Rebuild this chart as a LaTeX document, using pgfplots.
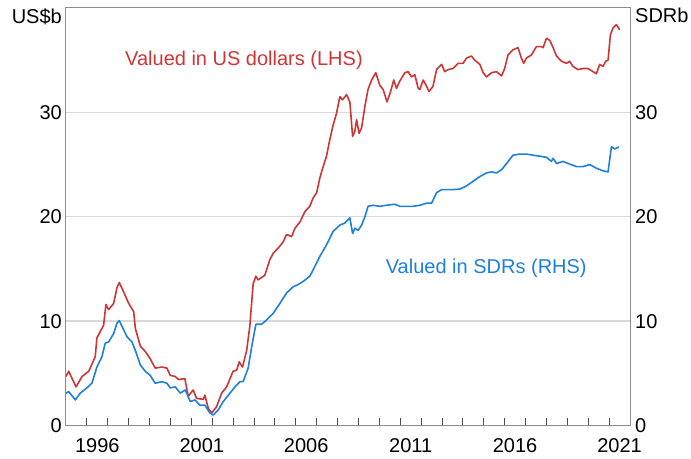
\documentclass[border=0pt]{standalone}
\usepackage{pgfplots}
\pgfplotsset{compat=1.18}
\usepackage{fontspec}
\setmainfont{Liberation Sans}

\definecolor{usdred}{RGB}{206,54,54}
\definecolor{sdrblue}{RGB}{30,128,222}
\definecolor{gridgrey}{RGB}{217,217,217}
\definecolor{framegrey}{RGB}{140,140,140}
\newcommand\fs{\fontsize{20}{24}\selectfont}

\pgfplotsset{
  rba/.style={
    scale only axis, width=564pt, height=417.5pt,
    xmin=1995, xmax=2022, ymin=0, ymax=40,
    ytick={0,10,20,30},
    tick label style={font=\fs},
    /pgf/number format/assume math mode=true,
    axis line style={framegrey, line width=1pt},
    clip mode=individual,
    every axis plot/.append style={line width=1.6pt, line join=round, mark=none},
  }
}

\begin{document}
\begin{tikzpicture}
% grid and LHS tick labels
\begin{axis}[rba,
  axis y line*=left, axis x line=none,
  major tick length=0pt,
  ymajorgrids, grid style={gridgrey, line width=1.3pt},
  yticklabel style={anchor=east, inner sep=0pt, xshift=-4pt},
]
\end{axis}

% LHS: US dollars
\begin{axis}[rba,
  ytick=\empty,
  xtick={1996,...,2021},
  % labels sit mid-year, so shift them half a year to the right
  xticklabels={1996,,,,,2001,,,,,2006,,,,,2011,,,,,2016,,,,,2021},
  xtick pos=lower,
  xtick style={color=black!70, line width=0.9pt},
  major tick length=7pt, tick align=inside,
  xticklabel style={anchor=north, inner sep=0pt, yshift=-13pt, xshift=10.45pt},
]
% yearly tick stubs along the bottom axis (about 7pt high)
\addplot[ycomb, black!70, line width=0.9pt] coordinates {
(1996,0.67) (1997,0.67) (1998,0.67) (1999,0.67) (2000,0.67) (2001,0.67)
(2002,0.67) (2003,0.67) (2004,0.67) (2005,0.67) (2006,0.67) (2007,0.67)
(2008,0.67) (2009,0.67) (2010,0.67) (2011,0.67) (2012,0.67) (2013,0.67)
(2014,0.67) (2015,0.67) (2016,0.67) (2017,0.67) (2018,0.67) (2019,0.67)
(2020,0.67) (2021,0.67)
};
\addplot[usdred] coordinates {
(1995.00,4.7) (1995.13,5.2) (1995.48,3.7) (1995.77,4.7) (1996.09,5.2)
(1996.40,6.6) (1996.48,8.4) (1996.80,9.6) (1996.91,11.6) (1997.04,11.1)
(1997.28,11.7) (1997.44,13.2) (1997.55,13.7) (1997.76,12.8) (1998.00,11.7)
(1998.24,10.9) (1998.32,9.3) (1998.56,7.6) (1998.79,7.1) (1999.03,6.4)
(1999.27,5.5) (1999.59,5.6) (1999.83,5.5) (1999.99,4.8) (2000.23,4.7)
(2000.39,4.4) (2000.69,4.5) (2000.85,2.8) (2001.09,3.4) (2001.25,2.6)
(2001.57,2.5) (2001.65,2.9) (2001.81,1.65) (2001.97,1.2) (2002.21,1.8)
(2002.45,3.1) (2002.69,3.7) (2003.00,5.2) (2003.17,5.3) (2003.29,6.1)
(2003.45,5.6) (2003.65,7.2) (2003.80,9.5) (2003.96,13.6) (2004.09,14.3)
(2004.20,13.95) (2004.52,14.4) (2004.76,15.9) (2004.92,16.5) (2005.16,17.0)
(2005.40,17.6) (2005.56,18.3) (2005.80,18.1) (2005.96,18.9) (2006.20,19.5)
(2006.44,20.5) (2006.67,21.0) (2006.83,21.8) (2007.00,22.3) (2007.15,23.7)
(2007.31,24.8) (2007.47,25.8) (2007.63,27.4) (2007.79,28.8) (2007.95,29.9)
(2008.11,31.5) (2008.24,31.2) (2008.43,31.7) (2008.59,31.0) (2008.72,27.7)
(2008.83,28.2) (2008.91,29.3) (2009.03,28.0) (2009.15,28.5) (2009.31,30.6)
(2009.46,32.2) (2009.63,33.1) (2009.83,33.8) (2010.02,32.6) (2010.18,32.2)
(2010.37,31.0) (2010.54,32.0) (2010.69,33.1) (2010.82,32.3) (2010.98,33.0)
(2011.22,33.8) (2011.38,33.9) (2011.54,33.4) (2011.70,33.6) (2011.86,32.3)
(2011.94,32.2) (2012.10,33.1) (2012.26,32.5) (2012.38,32.0) (2012.57,32.5)
(2012.74,34.1) (2012.98,34.6) (2013.13,33.9) (2013.29,34.1) (2013.53,34.2)
(2013.77,34.7) (2014.01,34.7) (2014.17,35.2) (2014.41,35.4) (2014.57,35.0)
(2014.81,34.6) (2014.97,33.8) (2015.13,33.4) (2015.37,33.8) (2015.61,33.9)
(2015.85,33.5) (2016.00,34.2) (2016.16,35.5) (2016.40,36.0) (2016.64,36.2)
(2016.80,35.2) (2016.91,34.7) (2017.04,35.2) (2017.28,35.5) (2017.52,36.3)
(2017.76,36.3) (2017.84,36.2) (2018.00,37.1) (2018.16,36.9) (2018.32,36.2)
(2018.48,35.4) (2018.72,34.9) (2018.96,34.7) (2019.11,34.9) (2019.27,34.4)
(2019.51,34.1) (2019.75,34.2) (2019.99,34.2) (2020.23,33.9) (2020.39,33.7)
(2020.55,34.6) (2020.71,34.4) (2020.84,34.9) (2020.95,35.0) (2021.06,37.4)
(2021.19,38.1) (2021.35,38.4) (2021.51,37.9)
};
\node[usdred, font=\fs] at (axis cs:2003.52,35.0) {Valued in US dollars (LHS)};
\node[font=\fs, anchor=north east, inner sep=0pt, xshift=-4pt] at (rel axis cs:0,1) {US\$b};
\coordinate (bl) at (rel axis cs:0,0);
\coordinate (tr) at (rel axis cs:1,1);
\end{axis}

% RHS: SDRs
\begin{axis}[rba,
  axis y line*=right, axis x line=none,
  major tick length=0pt,
  yticklabel style={anchor=west, inner sep=0pt, xshift=5pt},
]
\addplot[sdrblue] coordinates {
(1995.00,3.1) (1995.13,3.25) (1995.45,2.45) (1995.68,3.1) (1996.00,3.6)
(1996.24,4.05) (1996.48,5.6) (1996.72,6.6) (1996.88,7.9) (1997.04,8.0)
(1997.28,8.8) (1997.44,9.8) (1997.55,10.05) (1997.68,9.5) (1997.92,8.5)
(1998.16,8.0) (1998.32,7.2) (1998.56,5.8) (1998.79,5.2) (1999.03,4.8)
(1999.27,4.05) (1999.59,4.2) (1999.83,4.05) (1999.99,3.6) (2000.23,3.7)
(2000.47,3.1) (2000.71,3.4) (2000.95,2.3) (2001.17,2.45) (2001.41,1.95)
(2001.65,1.95) (2001.89,1.2) (2002.05,1.0) (2002.29,1.5) (2002.53,2.3)
(2002.85,3.1) (2003.09,3.7) (2003.33,4.2) (2003.48,4.2) (2003.72,5.5)
(2003.89,7.55) (2004.09,9.7) (2004.36,9.7) (2004.60,10.1) (2004.92,10.75)
(2005.24,11.7) (2005.56,12.7) (2005.88,13.3) (2006.11,13.5) (2006.35,13.8)
(2006.67,14.3) (2006.83,14.9) (2007.15,16.2) (2007.47,17.3) (2007.79,18.6)
(2008.11,19.2) (2008.35,19.4) (2008.59,19.9) (2008.72,18.4) (2008.83,18.9)
(2008.99,18.7) (2009.15,19.2) (2009.31,20.0) (2009.46,21.0) (2009.70,21.1)
(2010.02,21.0) (2010.34,21.1) (2010.74,21.2) (2010.98,21.0) (2011.30,21.0)
(2011.62,21.0) (2011.94,21.1) (2012.26,21.3) (2012.50,21.3) (2012.74,22.3)
(2012.98,22.6) (2013.22,22.6) (2013.53,22.6) (2013.85,22.65) (2014.17,22.95)
(2014.49,23.4) (2014.81,23.85) (2015.13,24.2) (2015.37,24.3) (2015.61,24.2)
(2015.85,24.5) (2016.09,25.1) (2016.40,25.9) (2016.72,26.0) (2017.04,26.0)
(2017.36,25.9) (2017.68,25.8) (2018.00,25.7) (2018.24,25.3) (2018.32,25.6)
(2018.48,25.1) (2018.79,25.3) (2019.11,25.05) (2019.44,24.8) (2019.75,24.8)
(2020.07,25.0) (2020.39,24.65) (2020.71,24.4) (2020.95,24.3) (2021.11,26.7)
(2021.27,26.5) (2021.47,26.7)
};
\node[sdrblue, font=\fs] at (axis cs:2015.12,15.1) {Valued in SDRs (RHS)};
\node[font=\fs, anchor=north west, inner sep=0pt, xshift=5pt] at (rel axis cs:1,1) {SDRb};
\end{axis}

\path ([shift={(-66pt,-32.5pt)}]bl) rectangle ([shift={(61pt,8pt)}]tr);
\end{tikzpicture}
\end{document}
